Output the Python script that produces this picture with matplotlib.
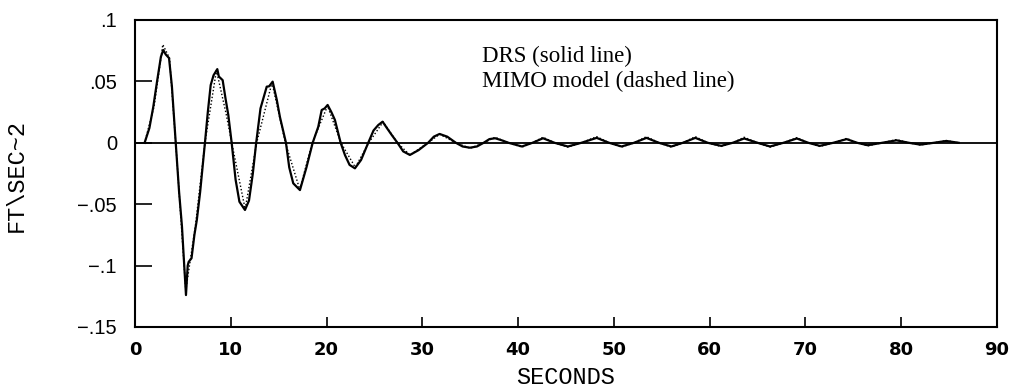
import matplotlib
matplotlib.use("Agg")
import matplotlib.pyplot as plt

# DRS response (solid line)
drs_t = [1.0, 1.5, 1.9, 2.3, 2.7, 2.95, 3.2, 3.55, 3.85, 4.25, 4.6, 4.9, 5.1, 5.32, 5.5,
         5.6, 5.9, 6.2, 6.45, 6.8, 7.3, 7.6, 7.9, 8.2, 8.59, 8.75, 9.15, 9.45, 9.74, 10.09,
         10.5, 10.9, 11.48, 11.9, 12.3, 12.65, 13.1, 13.75, 14.0, 14.37, 14.8, 15.13, 15.76,
         16.1, 16.52, 16.9, 17.22, 17.9, 18.55, 19.13, 19.49, 19.8, 20.11, 20.5, 20.87, 21.47,
         21.92, 22.4, 22.96, 23.6, 24.35, 24.9, 25.4, 25.85, 26.3, 26.8, 27.4, 28.0, 28.7,
         29.6, 30.6, 31.2, 31.8, 32.6, 33.5, 34.2, 34.97, 35.7, 36.4, 37.0, 37.6, 38.3, 39.0,
         40.4, 41.5, 42.6, 43.8, 45.2, 46.6, 48.2, 49.5, 50.8, 52.1, 53.4, 54.7, 56.0, 57.2,
         58.5, 59.8, 61.2, 62.4, 63.6, 65.0, 66.3, 67.7, 69.1, 70.3, 71.5, 72.9, 74.3, 75.4,
         76.5, 78.0, 79.5, 80.8, 82.0, 83.4, 84.7, 86.0]
drs_y = [0.0, 0.012, 0.029, 0.05, 0.07, 0.0756, 0.072, 0.069, 0.046, 0.0, -0.04, -0.068,
         -0.095, -0.124, -0.1, -0.097, -0.094, -0.075, -0.063, -0.04, 0.0, 0.025, 0.047, 0.055,
         0.06, 0.054, 0.051, 0.036, 0.0226, 0.0, -0.03, -0.048, -0.0547, -0.047, -0.025, 0.0,
         0.028, 0.0457, 0.046, 0.0498, 0.035, 0.021, 0.0, -0.02, -0.033, -0.036, -0.0385, -0.02,
         0.0, 0.013, 0.0267, 0.028, 0.0308, 0.025, 0.0186, 0.0, -0.01, -0.018, -0.0208, -0.014,
         0.0, 0.01, 0.0145, 0.0172, 0.012, 0.0064, 0.0, -0.007, -0.0099, -0.006, 0.0, 0.005,
         0.0072, 0.005, 0.0, -0.003, -0.004, -0.003, 0.0, 0.003, 0.0037, 0.002, 0.0, -0.003,
         0.0, 0.0037, 0.0, -0.003, 0.0, 0.004, 0.0, -0.003, 0.0, 0.004, 0.0, -0.003, 0.0,
         0.004, 0.0, -0.0025, 0.0, 0.0035, 0.0, -0.003, 0.0, 0.0035, 0.0, -0.0025, 0.0, 0.003,
         0.0, -0.002, 0.0, 0.002, 0.0, -0.0015, 0.0, 0.0015, 0.0]

# MIMO model (dashed line)
mimo_t = [1.0, 2.0, 2.9, 3.6, 4.25, 5.3, 6.3, 7.3, 8.5, 9.5, 10.1, 11.5, 12.7, 14.3, 15.7,
          17.2, 18.5, 20.1, 21.5, 23.0, 24.4, 25.9, 27.4, 28.7, 30.6, 31.8, 33.5, 35.0, 36.4,
          37.6, 39.0, 40.4, 41.5, 42.6, 43.8, 45.2, 46.6, 48.2, 49.5, 50.8, 52.1, 53.4, 54.7,
          56.0, 57.2, 58.5, 59.8, 61.2, 62.4, 63.6, 65.0, 66.3, 67.7, 69.1, 70.3, 71.5, 72.9,
          74.3, 75.4, 76.5, 78.0, 79.5, 80.8, 82.0, 83.4, 84.7, 86.0]
mimo_y = [0.0, 0.03, 0.08, 0.069, 0.0, -0.12, -0.068, 0.0, 0.059, 0.024, 0.0, -0.054, 0.0,
          0.049, 0.0, -0.038, 0.0, 0.03, 0.0, -0.02, 0.0, 0.017, 0.0, -0.01, 0.0, 0.007, 0.0,
          -0.0045, 0.0, 0.0045, 0.0, -0.0035, 0.0, 0.0045, 0.0, -0.0035, 0.0, 0.005, 0.0, -0.0035,
          0.0, 0.005, 0.0, -0.0035, 0.0, 0.005, 0.0, -0.003, 0.0, 0.0045, 0.0, -0.0035, 0.0,
          0.0042, 0.0, -0.003, 0.0, 0.0036, 0.0, -0.0025, 0.0, 0.0026, 0.0, -0.0018, 0.0, 0.0018, 0.0]

x_ticks = [0, 10, 20, 30, 40, 50, 60, 70, 80, 90]
y_ticks = [0.1, 0.05, 0.0, -0.05, -0.1, -0.15]
y_ticklabels = [".1", ".05", "0", "\u2212.05", "\u2212.1", "\u2212.15"]

fig = plt.figure(figsize=(10.16, 3.89), dpi=100)
ax = fig.add_axes([0.1329, 0.1594, 0.8484, 0.7892])

ax.axhline(0, color="black", lw=1.3)
ax.plot(mimo_t, mimo_y, color="black", lw=1.0, ls=(0, (1, 1.5)))
ax.plot(drs_t, drs_y, color="black", lw=1.6)

ax.set_xlim(0, 90)
ax.set_ylim(-0.15, 0.1)
ax.set_xticks(x_ticks)
ax.set_xticklabels([str(v) for v in x_ticks], fontsize=13, fontweight="bold",
                   family="DejaVu Sans")
ax.set_yticks(y_ticks)
ax.set_yticklabels(y_ticklabels, fontsize=14.5, family="Liberation Sans")
ax.tick_params(axis="y", direction="in", length=12, width=1.2, pad=13)
ax.tick_params(axis="x", direction="in", length=7, width=1.2, pad=10)
for sp in ax.spines.values():
    sp.set_linewidth(1.5)

ax.set_xlabel("SECONDS", family="Liberation Mono", fontsize=17)
ax.set_ylabel("FT\\SEC~2", family="Liberation Mono", fontsize=17)
ax.xaxis.set_label_coords(0.5, -0.128)
ax.yaxis.set_label_coords(-0.124, 0.495)

ax.text(0.4026, 0.066, "DRS (solid line)", transform=ax.get_yaxis_transform(),
        family="Liberation Serif", fontsize=16.5, va="baseline")
ax.text(0.4026, 0.0454, "MIMO model (dashed line)", transform=ax.get_yaxis_transform(),
        family="Liberation Serif", fontsize=16.5, va="baseline")

plt.savefig("out.png", dpi=100)
